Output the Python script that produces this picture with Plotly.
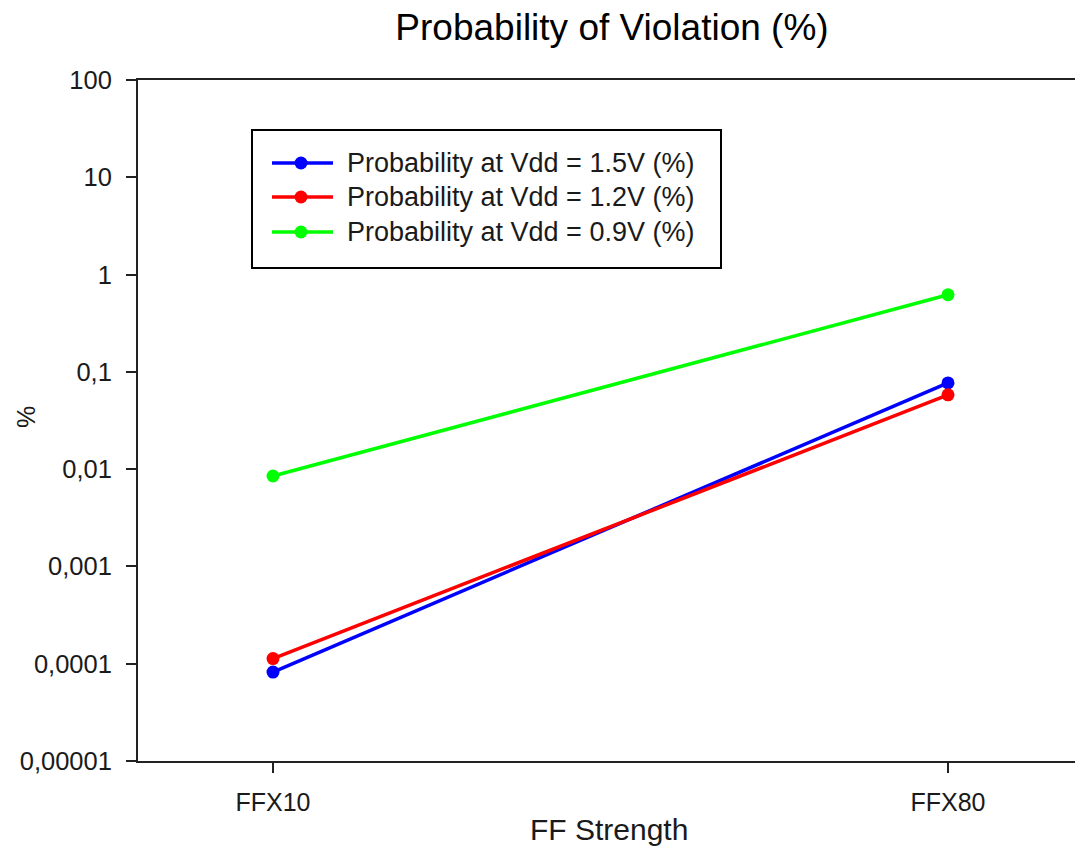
import plotly.graph_objects as go

# Flip-flop strength categories and violation probabilities (%)
categories = ["FFX10", "FFX80"]
prob_vdd_15 = [0.000082, 0.077]
prob_vdd_12 = [0.000113, 0.058]
prob_vdd_09 = [0.0085, 0.62]

series_names = [
    "Probability at Vdd = 1.5V (%)",
    "Probability at Vdd = 1.2V (%)",
    "Probability at Vdd = 0.9V (%)",
]
series_values = [prob_vdd_15, prob_vdd_12, prob_vdd_09]
series_colors = ["#0000FF", "#FF0000", "#00FF00"]

y_tick_vals = [100, 10, 1, 0.1, 0.01, 0.001, 0.0001, 0.00001]
y_tick_text = ["100", "10", "1", "0,1", "0,01", "0,001", "0,0001", "0,00001"]

FONT = "Liberation Sans, Arial, sans-serif"
TEXT = "#1a1a1a"

# page geometry of the plotting area
W_PAGE, H_PAGE = 1075, 851
L, R, T, B = 138, 1075, 80, 761


def px(x):
    return (x - L) / (R - L)


def py(y):
    return (B - y) / (B - T)


fig = go.Figure()
for name, vals, col in zip(series_names, series_values, series_colors):
    fig.add_trace(go.Scatter(
        x=categories, y=vals, name=name, mode="lines+markers",
        line=dict(color=col, width=3.5),
        marker=dict(color=col, size=13, symbol="circle"),
        showlegend=False,
    ))

# hand-drawn legend box
shapes = [dict(type="rect", xref="paper", yref="paper",
               x0=px(252), x1=px(721), y0=py(130), y1=py(268),
               line=dict(color="black", width=2), fillcolor="white", layer="above")]
annotations = []
row_y = [163, 197, 232]
for name, col, ry in zip(series_names, series_colors, row_y):
    shapes.append(dict(type="line", xref="paper", yref="paper",
                       x0=px(272), x1=px(333), y0=py(ry), y1=py(ry),
                       line=dict(color=col, width=3.5), layer="above"))
    shapes.append(dict(type="circle", xref="paper", yref="paper",
                       xsizemode="pixel", ysizemode="pixel",
                       xanchor=px(301), yanchor=py(ry),
                       x0=-6.5, x1=6.5, y0=-6.5, y1=6.5,
                       fillcolor=col, line=dict(color=col, width=0), layer="above"))
    annotations.append(dict(xref="paper", yref="paper", x=px(345), y=py(ry),
                            xanchor="left", yanchor="middle", showarrow=False,
                            text=name, font=dict(family=FONT, size=27, color=TEXT)))

# axis titles
annotations.append(dict(xref="paper", yref="paper", x=px(609), y=py(830),
                        xanchor="center", yanchor="middle", showarrow=False,
                        text="FF Strength", font=dict(family=FONT, size=30, color=TEXT)))
annotations.append(dict(xref="paper", yref="paper", x=px(26), y=py(417),
                        xanchor="center", yanchor="middle", showarrow=False,
                        textangle=-90, text="%",
                        font=dict(family=FONT, size=25, color=TEXT)))

fig.update_layout(
    width=W_PAGE, height=H_PAGE,
    margin=dict(l=L, r=W_PAGE - R, t=T, b=H_PAGE - B, pad=0),
    paper_bgcolor="white", plot_bgcolor="white",
    title=dict(text="Probability of Violation (%)", x=612 / W_PAGE, xanchor="center",
               y=1 - 27 / H_PAGE, yanchor="middle", yref="container",
               font=dict(family=FONT, size=37, color="black")),
    shapes=shapes, annotations=annotations,
    showlegend=False,
)
fig.update_xaxes(
    type="category", range=[-0.2, -0.2 + (R - L) / 675.0],
    showline=True, linecolor="#222", linewidth=2, mirror=True,
    ticks="outside", ticklen=10, tickwidth=2, tickcolor="#222",
    showgrid=False, zeroline=False,
    tickfont=dict(family=FONT, size=25, color=TEXT), ticklabelstandoff=8,
)
fig.update_yaxes(
    type="log", range=[-5, 2],
    tickvals=y_tick_vals, ticktext=y_tick_text,
    showline=True, linecolor="#222", linewidth=2,
    ticks="outside", ticklen=10, tickwidth=2, tickcolor="#222",
    showgrid=False, zeroline=False,
    tickfont=dict(family=FONT, size=25.5, color=TEXT), ticklabelstandoff=9,
)

fig.write_html("out.html")
